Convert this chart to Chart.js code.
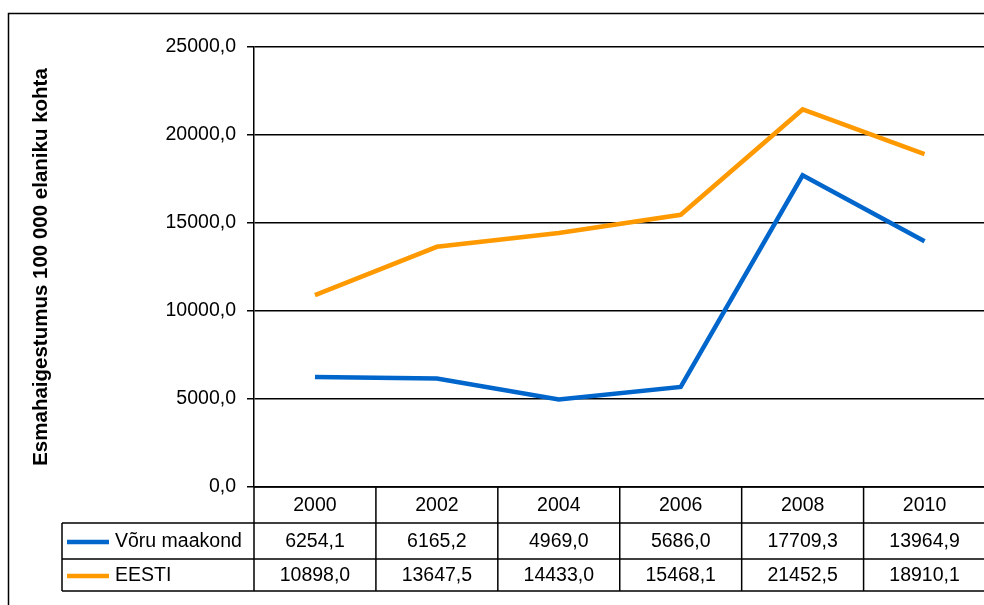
<!DOCTYPE html>
<html>
<head>
<meta charset="utf-8">
<script src="https://cdn.jsdelivr.net/npm/chart.js@4"></script>
<style>
 html, body { margin: 0; padding: 0; background: #fff; overflow: hidden; }
 #wrap { width: 1000px; height: 605px; }
</style>
</head>
<body>
<div id="wrap"><canvas id="chart" width="1000" height="605"></canvas></div>
<script>
var years = ["2000", "2002", "2004", "2006", "2008", "2010"];
var voruValues = [6254.1, 6165.2, 4969.0, 5686.0, 17709.3, 13964.9];
var eestiValues = [10898.0, 13647.5, 14433.0, 15468.1, 21452.5, 18910.1];
var seriesNames = ["Võru maakond", "EESTI"];
var yTicks = [0, 5000, 10000, 15000, 20000, 25000];
var yTitle = "Esmahaigestumus 100 000 elaniku kohta";

var fontFamily = "'Liberation Sans', Arial, sans-serif";
var textSize = 19.5;

function formatNumber(v) {
 return v.toFixed(1).replace(".", ",");
}

// data table under the plot, drawn from the x scale
var dataTablePlugin = {
 id: "dataTable",
 beforeDraw: function (chart) {
  var ctx = chart.ctx;
  ctx.save();
  ctx.strokeStyle = "#000";
  ctx.lineWidth = 1.5;
  ctx.strokeRect(8.5, 13.5, 1200, 1000);
  ctx.restore();
 },
 afterDraw: function (chart) {
  var ctx = chart.ctx;
  var xScale = chart.scales.x;
  var area = chart.chartArea;
  var colW = (area.right - area.left) / years.length;
  var rowTop = area.bottom;
  var rowH = [36, 36, 32];
  var rows = [rowTop, rowTop + rowH[0], rowTop + rowH[0] + rowH[1], rowTop + rowH[0] + rowH[1] + rowH[2]];
  var legendLeft = 62;

  ctx.save();
  ctx.strokeStyle = "#000";
  ctx.lineWidth = 1.5;

  // horizontal lines
  ctx.beginPath();
  ctx.moveTo(area.left, rows[0]);
  ctx.lineTo(area.right, rows[0]);
  for (var r = 1; r < rows.length; r++) {
   ctx.moveTo(legendLeft, rows[r]);
   ctx.lineTo(area.right, rows[r]);
  }
  // vertical lines
  for (var i = 0; i <= years.length; i++) {
   var x = xScale.getPixelForValue(0) - colW / 2 + i * colW;
   ctx.moveTo(x, rows[0]);
   ctx.lineTo(x, rows[3]);
  }
  ctx.moveTo(legendLeft, rows[1]);
  ctx.lineTo(legendLeft, rows[3]);
  ctx.stroke();

  ctx.fillStyle = "#000";
  ctx.font = textSize + "px " + fontFamily;
  ctx.textAlign = "center";
  ctx.textBaseline = "middle";
  var series = [voruValues, eestiValues];
  for (var j = 0; j < years.length; j++) {
   var cx = xScale.getPixelForValue(j);
   ctx.fillText(years[j], cx, (rows[0] + rows[1]) / 2 + 1);
   for (var s = 0; s < series.length; s++) {
    ctx.fillText(formatNumber(series[s][j]), cx, (rows[s + 1] + rows[s + 2]) / 2 + 1);
   }
  }

  // legend keys
  ctx.textAlign = "left";
  chart.data.datasets.forEach(function (ds, k) {
   var cy = (rows[k + 1] + rows[k + 2]) / 2;
   ctx.strokeStyle = ds.borderColor;
   ctx.lineWidth = 4.5;
   ctx.beginPath();
   ctx.moveTo(67, cy + 1);
   ctx.lineTo(109, cy + 1);
   ctx.stroke();
   ctx.fillStyle = "#000";
   ctx.fillText(ds.label, 115, cy + 1);
  });
  ctx.restore();
 },
};

new Chart(document.getElementById("chart"), {
 type: "line",
 data: {
  labels: years,
  datasets: [
   {
    label: seriesNames[0],
    data: voruValues,
    borderColor: "#0066CC",
    borderWidth: 4.5,
    pointRadius: 0,
    tension: 0,
   },
   {
    label: seriesNames[1],
    data: eestiValues,
    borderColor: "#FF9900",
    borderWidth: 4.5,
    pointRadius: 0,
    tension: 0,
   },
  ],
 },
 options: {
  responsive: false,
  animation: false,
  devicePixelRatio: 1,
  layout: {
   padding: { left: 0, top: 47, right: 14.5, bottom: 118 },
  },
  plugins: {
   legend: { display: false },
   tooltip: { enabled: false },
  },
  scales: {
   x: {
    display: false,
    offset: true,
   },
   y: {
    min: 0,
    max: 25000,
    afterFit: function (scale) {
     scale.width = 254;
    },
    afterBuildTicks: function (scale) {
     scale.ticks = yTicks.map(function (v) {
      return { value: v };
     });
    },
    ticks: {
     color: "#000",
     padding: 11,
     font: { family: fontFamily, size: textSize },
     callback: function (v) {
      return formatNumber(v);
     },
    },
    grid: {
     color: "#000",
     lineWidth: 1.5,
     tickLength: 7,
    },
    border: { color: "#000", width: 1.5 },
    title: {
     display: true,
     text: yTitle,
     color: "#000",
     font: { family: fontFamily, size: 20.5, weight: "bold" },
     padding: { top: 29, bottom: 0 },
    },
   },
  },
 },
 plugins: [dataTablePlugin],
});
</script>
</body>
</html>
